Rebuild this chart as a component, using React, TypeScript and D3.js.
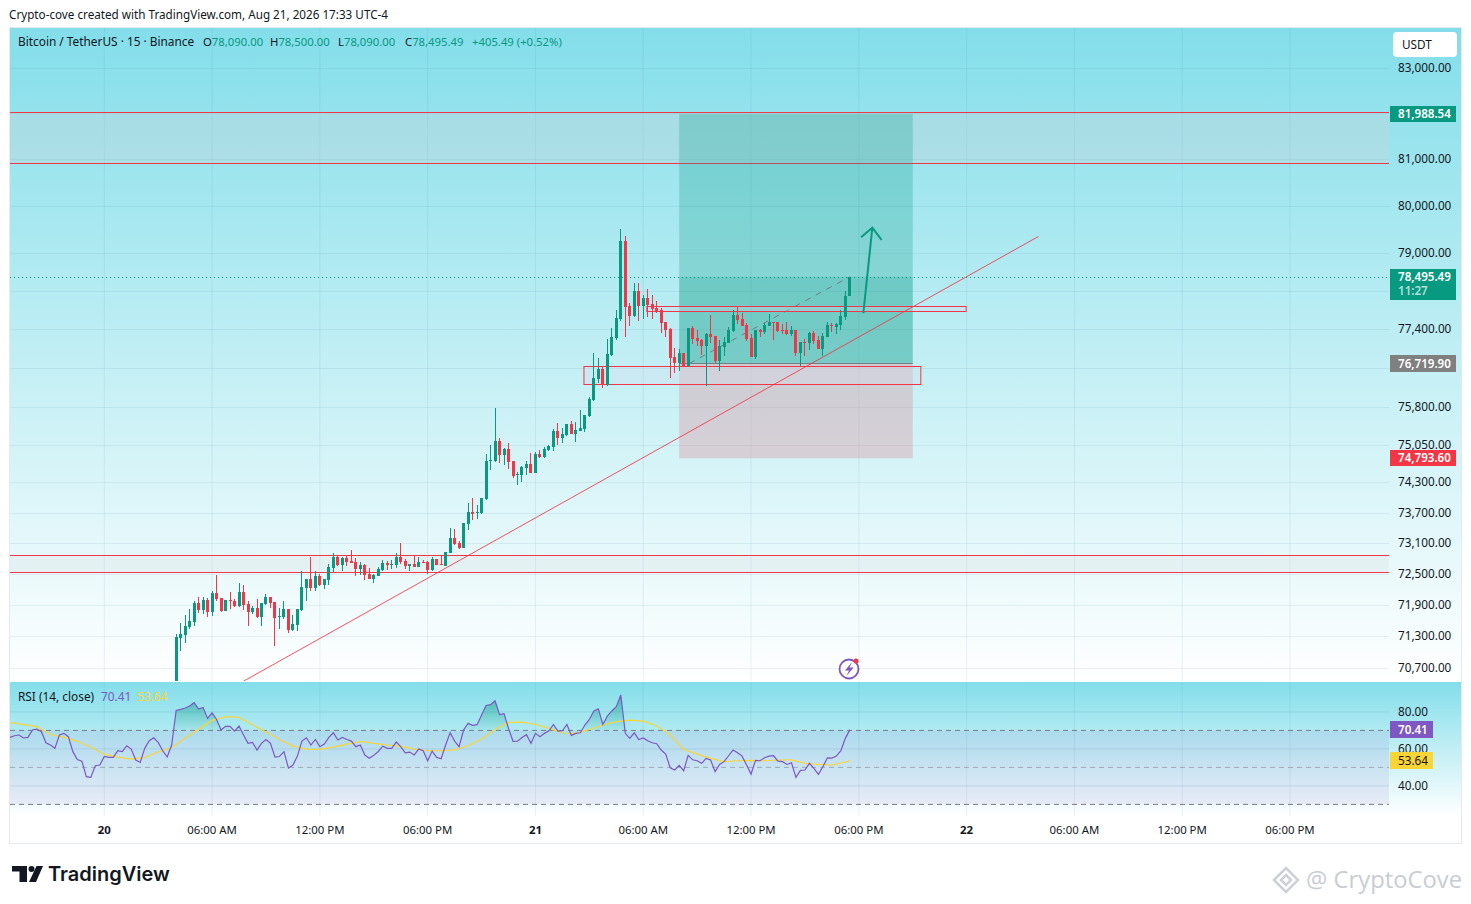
import { scaleLinear, scaleLog, line, area, curveLinear } from "d3";

// candle 0 is the first one on screen, candle 80 is the "21" tick (00:00)
const opens = [70190,71265,71323,71475,71571,71935,71801,71993,71763,72127,72031,71782,71993,71974,71878,72147,71916,71763,71839,71666,71916,72051,71954,71666,71666,71820,71418,71513,71801,72224,72397,72224,72456,72282,72378,72610,72824,72669,72805,72746,72727,72591,72669,72494,72397,72456,72572,72707,72669,72669,72824,72746,72649,72688,72630,72727,72727,72572,72785,72688,72649,72902,73195,73098,73000,73470,73706,73686,73686,73962,74716,74716,75117,74836,74956,74716,74437,74437,74577,74656,74477,74856,74796,74936,74996,75318,75177,75237,75459,75258,75318,75358,75620,75944,76371,76575,76249,76862,77212,77605,79239,77875,77667,78188,77875,78042,77917,77834,77792,77543,77398,76822,76698,76903,76637,77418,77212,77171,77048,77295,77254,76739,77027,77109,77357,77688,77605,77480,77212,76822,77377,77336,77460,77543,77543,77377,77377,77295,77377,76903,77130,77109,77315,77171,76986,77233,77480,77439,77480,77646,78090];
const highs = [71355,71552,71705,71820,71974,72051,72051,72031,72166,72475,72031,71993,72147,72012,72320,72281,71974,71878,72012,71935,72108,72051,71954,71839,71974,71820,71705,71820,72553,72397,72824,72553,72494,72397,72688,72902,72863,72824,72863,72961,72805,72727,72688,72610,72494,72630,72766,72746,72766,72902,73098,72785,72688,72844,72824,72766,72746,72824,72785,72863,72922,73391,73371,73137,73489,73883,73982,73844,73982,74856,75036,75781,75177,74976,75077,74716,74497,74617,74716,74876,74896,74936,74996,75036,75358,75479,75378,75459,75519,75499,75741,75640,76005,76903,76801,76637,77192,77418,77792,79493,79345,77938,78356,78356,78104,78230,78104,77979,77834,77543,77418,77006,76986,76903,77418,77460,77377,77192,77315,77688,77254,77171,77233,77439,77792,77854,77729,77522,77295,77377,77398,77522,77709,77543,77543,77501,77543,77460,77377,77130,77192,77336,77357,77254,77315,77543,77522,77522,77792,78188,78500];
const lows = [70100,71024,71176,71437,71494,71744,71724,71666,71686,71974,71763,71782,71820,71858,71858,71801,71494,71724,71647,71494,71897,71839,71113,71437,71628,71361,71399,71399,71782,71974,72166,72166,72262,72205,72282,72533,72649,72553,72649,72707,72456,72475,72378,72397,72320,72456,72553,72572,72591,72610,72688,72591,72553,72630,72630,72707,72494,72553,72669,72669,72649,72902,73058,72980,73000,73352,73548,73568,73667,73942,74537,74696,74676,74636,74557,74378,74239,74298,74437,74477,74477,74776,74776,74916,74916,75036,75077,75217,75258,75097,75318,75298,75600,75924,76290,76188,76229,76842,77171,77563,77233,77460,77646,77563,77605,77646,77605,77729,77315,77233,76392,76494,76535,76637,76616,77089,77048,76862,76229,77109,76698,76535,76842,77109,77336,77501,77460,77150,76822,76780,77233,77295,77460,77171,77336,77295,77274,77254,76842,76637,76842,76965,77089,76986,76842,77233,77336,77295,77377,77584,78090];
const closes = [71285,71342,71494,71590,71935,71801,71993,71763,72127,72012,71782,71993,71974,71878,72147,71897,71763,71839,71666,71935,72051,71935,71647,71686,71820,71418,71532,71820,72243,72397,72224,72456,72282,72397,72630,72824,72669,72805,72727,72707,72591,72669,72475,72397,72475,72591,72707,72669,72688,72824,72727,72649,72688,72630,72727,72707,72572,72785,72669,72669,72922,73195,73078,73000,73489,73706,73667,73706,73982,74716,74736,75117,74836,74956,74696,74417,74457,74597,74656,74477,74856,74796,74956,75016,75318,75177,75258,75459,75258,75338,75378,75640,75964,76392,76575,76249,76883,77233,77625,79239,77854,77667,78188,77875,78042,77896,77813,77750,77522,77377,76801,76698,76903,76637,77418,77192,77150,77048,77295,77233,76739,77048,77130,77377,77688,77584,77460,77192,76822,77377,77336,77480,77543,77522,77357,77357,77295,77377,76903,77130,77109,77315,77150,76986,77254,77480,77460,77501,77667,78083,78495.49];

// rsi starts 37 bars before the first candle
const rsiStart = -37;
const rsiValues = [66.2,67.1,67.5,65.9,66.2,70.2,70.7,69.3,63.3,62.1,60.3,67.5,68.4,66.6,58.5,54.3,53.4,45.0,44.6,50.9,51.3,55.9,55.4,55.4,59.0,58.5,61.7,59.9,54.0,52.7,60.3,64.4,66.0,63.5,59.0,55.6,62.1,80.8,81.4,82.1,83.2,85.0,81.5,82.4,76.5,79.5,75.9,70.2,72.2,72.2,69.6,72.3,67.5,63.0,63.5,59.4,63.0,65.1,63.0,55.6,55.9,58.5,49.6,51.3,56.1,64.2,66.0,62.1,65.1,61.2,62.6,66.2,68.7,64.8,66.2,65.1,64.2,61.2,62.1,56.7,54.9,56.5,58.6,61.5,60.3,60.3,63.7,61.2,57.9,58.3,56.7,59.9,59.0,53.6,58.8,55.4,54.7,62.1,68.7,64.2,61.2,70.2,73.8,72.7,73.1,78.3,83.5,83.9,86.0,78.5,79.0,71.1,64.1,64.2,66.2,67.7,63.0,68.4,66.6,68.4,69.8,73.2,69.6,69.8,73.2,67.3,68.4,68.7,72.9,75.9,80.5,81.7,73.2,77.7,80.5,82.8,89.1,68.4,65.7,68.7,65.1,65.9,64.4,63.3,62.8,59.4,57.2,49.8,48.6,51.1,48.2,56.5,54.1,53.6,52.2,54.9,54.0,47.7,51.6,53.1,56.3,59.4,57.9,56.1,51.3,46.4,53.8,53.6,55.2,56.1,56.3,53.4,53.1,51.6,52.5,44.6,48.4,48.6,52.2,49.5,46.2,50.4,55.2,55.0,56.1,59.0,65.7,70.41];
// rsi moving average, read every third bar
const rsiMaBars = [-37,-34,-31,-28,-25,-22,-19,-16,-13,-10,-7,-4,-1,2,5,8,11,14,17,20,23,26,29,32,35,38,41,44,47,50,53,56,59,62,65,68,71,74,77,80,83,86,89,92,95,98,101,104,107,110,113,116,119,122,125,128,131,134,137,140,143,146,149,150];
const rsiMaValues = [74.3,73.1,72.0,67.8,66.2,64.1,61.0,57.0,55.6,54.5,55.4,58.3,60.6,65.9,70.7,75.4,77.4,77.0,73.1,69.1,65.1,61.5,59.7,59.7,61.0,62.6,64.1,63.0,62.1,61.4,59.9,59.0,59.0,59.5,61.7,65.3,70.5,74.3,74.5,73.2,71.1,68.6,68.4,70.5,72.9,74.7,75.6,75.0,72.5,67.5,59.7,57.2,54.9,53.1,53.6,53.8,53.6,54.0,54.1,52.2,51.6,51.3,52.9,53.64];

const gridTicks = [83000,82000,81000,80000,79000,78200,77400,76600,75800,75050,74300,73700,73100,72500,71900,71300,70700];
// 82,000 / 78,200 / 76,600 sit under the price boxes, so only the grid line shows
const priceLabels = [83000,81000,80000,79000,77400,75800,75050,74300,73700,73100,72500,71900,71300,70700];
const rsiTicks = [80,60,40];
const timeBars = [-16,8,32,56,80,104,128,152,176,200,224,248];
const timeLabels = ["20","06:00 AM","12:00 PM","06:00 PM","21","06:00 AM","12:00 PM","06:00 PM","22","06:00 AM","12:00 PM","06:00 PM"];

const GREEN = "#089981";
const RED = "#F23645";
const PURPLE = "#7E57C2";
const YELLOW = "#F9D535";
const BAND = "#D4D0D8";
const FONT = "'Noto Sans', sans-serif";

const LEFT = 10;
const PLOT_RIGHT = 1389;
const RIGHT = 1461;
const MAIN_TOP = 28;
const MAIN_BOTTOM = 681;
const RSI_TOP = 682;
const RSI_BOTTOM = 816;
const BOTTOM = 843;

export default function App() {
  const x = scaleLinear().domain([-16, 248]).range([104.3, 1290]);
  const y = scaleLog().domain([70700, 83000]).range([668, 68]);
  const ry = scaleLinear().domain([30, 70]).range([804.4, 730.4]);

  const rsiPts = rsiValues.map((v, i) => [i + rsiStart, v] as [number, number]);
  const rsiLine = line<[number, number]>().x((d) => x(d[0])).y((d) => ry(d[1])).curve(curveLinear);
  const rsiArea = area<[number, number]>().x((d) => x(d[0])).y0(ry(70)).y1((d) => ry(d[1]));
  const maPts = rsiMaBars.map((b, i) => [b, rsiMaValues[i]] as [number, number]);

  const trend = [[15, 70451], [192, 79345]];
  const arrowShaft = [[153, 77733], [155, 79530]];
  const arrowHead = [[152.5, 79330], [155, 79530], [157.05, 79275]];
  const toPath = (pts: number[][]) => line<number[]>().x((d) => x(d[0])).y((d) => y(d[1]))(pts) ?? "";

  const lp = { left: 112, right: 164, target: 81988.54, entry: 76695, stop: 74775, now: 78495.49 };

  return (
    <svg width={1471} height={904} style={{ position: "absolute", left: 0, top: 0, background: "#fff" }} fontFamily={FONT}>
      <defs>
        <linearGradient id="paneBg" x1="0" x2="0" y1="0" y2="1">
          <stop offset="0" stopColor="#83DEEA" />
          <stop offset="1" stopColor="#ffffff" />
        </linearGradient>
        <linearGradient id="obFill" x1="0" x2="0" gradientUnits="userSpaceOnUse" y1={ry(90)} y2={ry(70)}>
          <stop offset="0" stopColor={GREEN} stopOpacity={0.6} />
          <stop offset="1" stopColor={GREEN} stopOpacity={0.05} />
        </linearGradient>
        <clipPath id="mainClip"><rect x={LEFT} y={MAIN_TOP} width={PLOT_RIGHT - LEFT} height={MAIN_BOTTOM - MAIN_TOP} /></clipPath>
        <clipPath id="obClip"><rect x={LEFT} y={RSI_TOP} width={PLOT_RIGHT - LEFT} height={ry(70) - RSI_TOP} /></clipPath>
      </defs>

      <text x={9} y={19} fontSize={11.7} fill="#131722">Crypto-cove created with TradingView.com, Aug 21, 2026 17:33 UTC-4</text>

      {/* frame + pane backgrounds */}
      <rect x={LEFT - 0.5} y={27.5} width={RIGHT - LEFT + 1} height={BOTTOM - 27} fill="#fff" stroke="#E6E9EE" />
      <rect x={LEFT} y={MAIN_TOP} width={RIGHT - LEFT} height={MAIN_BOTTOM - MAIN_TOP} fill="url(#paneBg)" />
      <rect x={LEFT} y={RSI_TOP} width={RIGHT - LEFT} height={RSI_BOTTOM - RSI_TOP} fill="url(#paneBg)" />

      {/* grid */}
      {timeBars.map((b) => (
        <g key={b}>
          <line x1={x(b)} x2={x(b)} y1={MAIN_TOP} y2={MAIN_BOTTOM} stroke="#4A7C9A" strokeOpacity={0.11} />
          <line x1={x(b)} x2={x(b)} y1={RSI_TOP} y2={RSI_BOTTOM} stroke="#4A7C9A" strokeOpacity={0.11} />
        </g>
      ))}
      {gridTicks.map((t) => (
        <line key={t} x1={LEFT} x2={PLOT_RIGHT} y1={Math.round(y(t)) + 0.5} y2={Math.round(y(t)) + 0.5} stroke="#4A7C9A" strokeOpacity={0.11} />
      ))}

      {/* rectangles and position tool */}
      <g clipPath="url(#mainClip)">
        <rect x={LEFT} y={112.5} width={PLOT_RIGHT - LEFT} height={51} fill={BAND} fillOpacity={0.3} />
        <line x1={LEFT} x2={PLOT_RIGHT} y1={112.5} y2={112.5} stroke={RED} />
        <line x1={LEFT} x2={PLOT_RIGHT} y1={163.5} y2={163.5} stroke={RED} />
        <rect x={LEFT} y={555} width={PLOT_RIGHT - LEFT} height={17.5} fill={BAND} fillOpacity={0.2} />
        <line x1={LEFT} x2={PLOT_RIGHT} y1={555.5} y2={555.5} stroke={RED} />
        <line x1={LEFT} x2={PLOT_RIGHT} y1={572.5} y2={572.5} stroke={RED} />

        <rect x={x(lp.left)} width={x(lp.right) - x(lp.left)} y={y(lp.target)} height={y(lp.entry) - y(lp.target)} fill={GREEN} fillOpacity={0.25} />
        <rect x={x(lp.left)} width={x(lp.right) - x(lp.left)} y={y(lp.now)} height={y(lp.entry) - y(lp.now)} fill={GREEN} fillOpacity={0.2} />
        <rect x={x(lp.left)} width={x(lp.right) - x(lp.left)} y={y(lp.entry)} height={y(lp.stop) - y(lp.entry)} fill="#D9A5AE" fillOpacity={0.45} />
        <line x1={x(lp.left)} x2={x(lp.right)} y1={y(lp.entry)} y2={y(lp.entry)} stroke="#787B86" />
        <path d={toPath([[114.2, lp.entry], [150, lp.now]])} fill="none" stroke="#787B86" strokeDasharray="6 6" />

        <rect x={x(90.8)} width={x(165.8) - x(90.8)} y={366.5} height={18} fill="#DCDCF0" fillOpacity={0.3} stroke={RED} />
        <rect x={x(104.8)} width={x(175.9) - x(104.8)} y={306.5} height={5} fill="#DCDCF0" fillOpacity={0.3} stroke={RED} />

        <path d={toPath(trend)} fill="none" stroke={RED} strokeOpacity={0.85} />

        <line x1={LEFT} x2={PLOT_RIGHT} y1={277.5} y2={277.5} stroke={GREEN} strokeDasharray="1 3" />

        {/* candles */}
        {opens.map((o, i) => {
          const c = closes[i];
          const col = c >= o ? GREEN : RED;
          const cx = Math.floor(x(i));
          const top = Math.min(y(o), y(c));
          const h = Math.max(Math.abs(y(o) - y(c)), 1);
          return (
            <g key={i} shapeRendering="crispEdges">
              <line x1={cx + 0.5} x2={cx + 0.5} y1={y(highs[i])} y2={y(lows[i])} stroke={col} />
              <rect x={cx - 1} y={top} width={3} height={h} fill={col} />
            </g>
          );
        })}

        <path d={toPath(arrowShaft)} fill="none" stroke={GREEN} strokeWidth={2} />
        <path d={toPath(arrowHead)} fill="none" stroke={GREEN} strokeWidth={2} />
      </g>

      {/* legend */}
      <text y={46} fontSize={11.85}>
        <tspan x={18} fill="#131722">Bitcoin / TetherUS · 15 · Binance</tspan>
      </text>
      <text y={46} fontSize={11.3}>
        <tspan x={203} fill="#131722">O</tspan><tspan fill={GREEN}>78,090.00</tspan>
        <tspan x={270} fill="#131722">H</tspan><tspan fill={GREEN}>78,500.00</tspan>
        <tspan x={338} fill="#131722">L</tspan><tspan fill={GREEN}>78,090.00</tspan>
        <tspan x={405} fill="#131722">C</tspan><tspan fill={GREEN}>78,495.49</tspan>
        <tspan x={472} fill={GREEN}>+405.49 (+0.52%)</tspan>
      </text>

      {/* lightning icon */}
      <circle cx={849} cy={669} r={9.5} fill="#fff" fillOpacity={0.3} stroke={PURPLE} strokeWidth={1.8} />
      <path d="M852 662 L845 670.5 L849 670.5 L846.5 676 L853.5 667.5 L849.5 667.5 Z" fill={PURPLE} />
      <circle cx={856} cy={661} r={2.5} fill={RED} />

      {/* price axis */}
      {priceLabels.map((t) => (
        <text key={t} x={1398} y={y(t) + 4} fontSize={11.75} fill="#131722">{t.toLocaleString("en-US", { minimumFractionDigits: 2 })}</text>
      ))}
      <rect x={1393} y={32} width={64} height={25} rx={4} fill="#fff" />
      <text x={1402} y={49} fontSize={11.75} fill="#131722">USDT</text>

      <rect x={1390} y={106} width={66} height={16} fill={GREEN} />
      <text x={1398} y={118} fontSize={11.6} fontWeight={600} fill="#fff">81,988.54</text>
      <rect x={1390} y={269} width={66} height={31} fill={GREEN} />
      <text x={1398} y={281} fontSize={11.6} fontWeight={600} fill="#fff">78,495.49</text>
      <text x={1398} y={295} fontSize={11.6} fontWeight={600} fill="#fff" fillOpacity={0.7}>11:27</text>
      <rect x={1390} y={355} width={66} height={17} fill="#808080" />
      <text x={1398} y={367.5} fontSize={11.6} fontWeight={600} fill="#fff">76,719.90</text>
      <rect x={1390} y={450} width={66} height={16} fill={RED} />
      <text x={1398} y={462} fontSize={11.6} fontWeight={600} fill="#fff">74,793.60</text>

      {/* rsi pane */}
      <rect x={LEFT} width={PLOT_RIGHT - LEFT} y={ry(70)} height={ry(30) - ry(70)} fill={PURPLE} fillOpacity={0.1} />
      {rsiTicks.map((t) => (
        <line key={t} x1={LEFT} x2={PLOT_RIGHT} y1={ry(t)} y2={ry(t)} stroke="#4A7C9A" strokeOpacity={0.16} />
      ))}
      <line x1={LEFT} x2={PLOT_RIGHT} y1={ry(70)} y2={ry(70)} stroke="#787B86" strokeDasharray="5 4" />
      <line x1={LEFT} x2={PLOT_RIGHT} y1={ry(50)} y2={ry(50)} stroke="#787B86" strokeOpacity={0.55} strokeDasharray="5 4" />
      <line x1={LEFT} x2={PLOT_RIGHT} y1={ry(30)} y2={ry(30)} stroke="#787B86" strokeDasharray="5 4" />
      <path d={rsiArea(rsiPts) ?? ""} fill="url(#obFill)" clipPath="url(#obClip)" />
      <path d={rsiLine(maPts) ?? ""} fill="none" stroke={YELLOW} strokeWidth={1.2} />
      <path d={rsiLine(rsiPts) ?? ""} fill="none" stroke={PURPLE} strokeWidth={1.2} />

      <text y={701} fontSize={11.85}>
        <tspan x={18} fill="#131722">RSI (14, close)</tspan>
        <tspan x={101} fill={PURPLE}>70.41</tspan>
        <tspan x={137} fill={YELLOW}>53.64</tspan>
      </text>
      {rsiTicks.map((t) => (
        <text key={t} x={1398} y={ry(t) + 4} fontSize={11.75} fill="#131722">{t.toFixed(2)}</text>
      ))}
      <rect x={1390} y={721} width={43} height={17} fill={PURPLE} />
      <text x={1398} y={734} fontSize={11.6} fontWeight={600} fill="#fff">70.41</text>
      <rect x={1390} y={752} width={43} height={17} fill={YELLOW} />
      <text x={1398} y={765} fontSize={11.75} fill="#131722">53.64</text>

      {/* time axis */}
      {timeBars.map((b, i) => (
        <text key={b} x={x(b)} y={834} fontSize={11.4} textAnchor="middle" fill="#131722" fontWeight={timeLabels[i].length < 3 ? 700 : 400}>
          {timeLabels[i]}
        </text>
      ))}

      {/* footer */}
      <g fill="#131722">
        <path d="M12 866 H27 V882 H19.5 V871.5 H12 Z" />
        <circle cx={31.5} cy={869} r={3} />
        <path d="M36.5 866 H43 L36 882 H29 Z" />
        <text x={48} y={881} fontSize={20} fontWeight={600} fontFamily="Inter, sans-serif">TradingView</text>
      </g>
      <g fill="none" stroke="#CDD1D6" strokeWidth={2.5}>
        <path d="M1286 868 L1298 880 L1286 892 L1274 880 Z" />
        <path d="M1286 875 L1291 880 L1286 885 L1281 880 Z" />
      </g>
      <text x={1306} y={888} fontSize={23.8} fill="#C9CDD2" fontFamily="'Open Sans', sans-serif">@ CryptoCove</text>
    </svg>
  );
}
